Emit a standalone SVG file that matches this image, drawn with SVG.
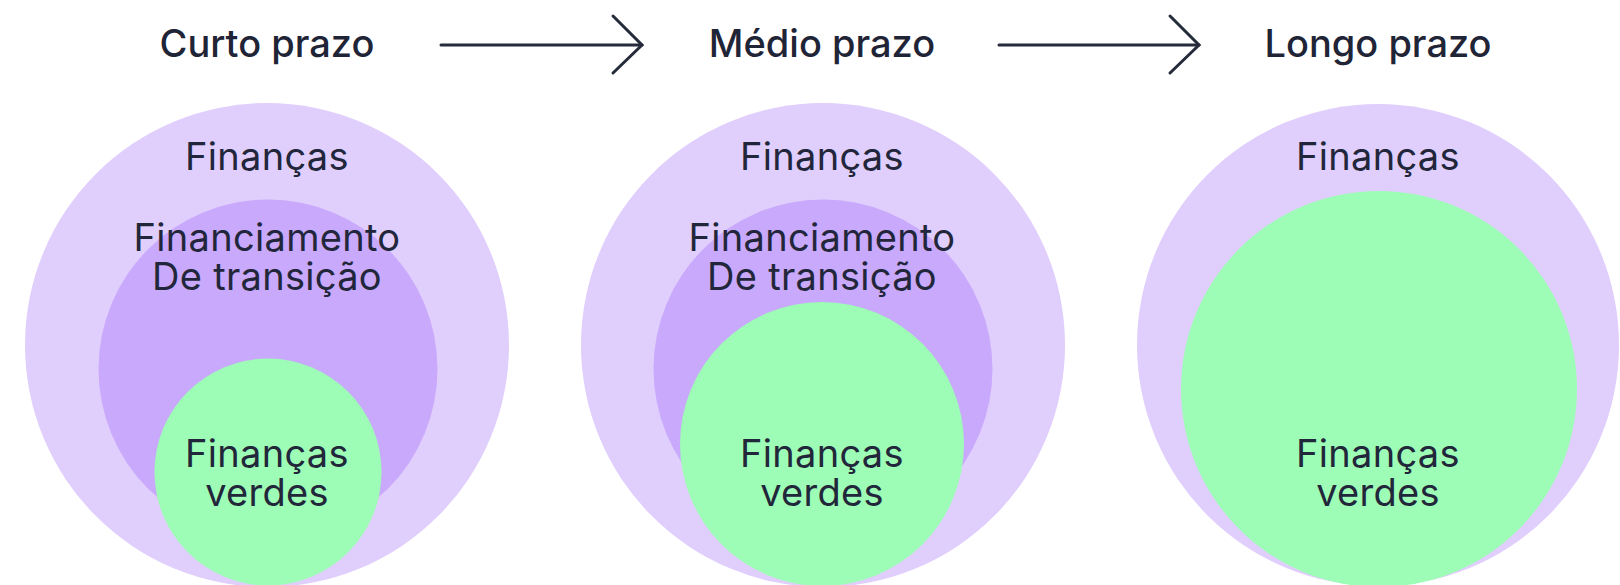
<svg xmlns="http://www.w3.org/2000/svg" width="1620" height="585" viewBox="0 0 1620 585">
  <style>
    .outer { fill: #E0CEFD; }
    .mid { fill: #C9A9FB; }
    .green { fill: #9DFCB5; }
    .title { font-family: Inter, "Liberation Sans", sans-serif; font-weight: 500; font-size: 38px; fill: #1F2436; text-anchor: middle; }
    .label { font-family: Inter, "Liberation Sans", sans-serif; font-weight: 400; font-size: 38px; letter-spacing: 0.3px; fill: #22263A; text-anchor: middle; }
    .conn { fill: none; stroke: #262B3B; stroke-width: 3; stroke-linecap: round; stroke-linejoin: miter; }
  </style>
  <rect width="1620" height="585" fill="#FFFFFF"/>

  <g id="title-curto">
    <text class="title" x="267" y="57">Curto prazo</text>
  </g>
  <g id="title-medio">
    <text class="title" x="822" y="57">Médio prazo</text>
  </g>
  <g id="title-longo">
    <text class="title" x="1378" y="57">Longo prazo</text>
  </g>

  <g id="connectors">
    <path class="conn" d="M441 45 H642"/>
    <path class="conn" d="M613 16 L642 45 L613 73"/>
    <path class="conn" d="M999 45 H1199"/>
    <path class="conn" d="M1170 16 L1199 45 L1170 73"/>
  </g>

  <g id="curto">
    <circle class="outer" cx="267" cy="345" r="242"/>
    <circle class="mid" cx="268" cy="369" r="169.5"/>
    <circle class="green" cx="268" cy="472" r="113.5"/>
    <text class="label" x="267" y="170">Finanças</text>
    <text class="label" x="267" y="251">Financiamento</text>
    <text class="label" x="267" y="290">De transição</text>
    <text class="label" x="267" y="467">Finanças</text>
    <text class="label" x="267" y="506">verdes</text>
  </g>

  <g id="medio">
    <circle class="outer" cx="823" cy="345" r="242"/>
    <circle class="mid" cx="823" cy="369" r="169.5"/>
    <circle class="green" cx="822" cy="444" r="142"/>
    <text class="label" x="822" y="170">Finanças</text>
    <text class="label" x="822" y="251">Financiamento</text>
    <text class="label" x="822" y="290">De transição</text>
    <text class="label" x="822" y="467">Finanças</text>
    <text class="label" x="822" y="506">verdes</text>
  </g>

  <g id="longo">
    <circle class="outer" cx="1378" cy="345" r="241"/>
    <circle class="green" cx="1379" cy="389" r="198"/>
    <text class="label" x="1378" y="170">Finanças</text>
    <text class="label" x="1378" y="467">Finanças</text>
    <text class="label" x="1378" y="506">verdes</text>
  </g>
</svg>
